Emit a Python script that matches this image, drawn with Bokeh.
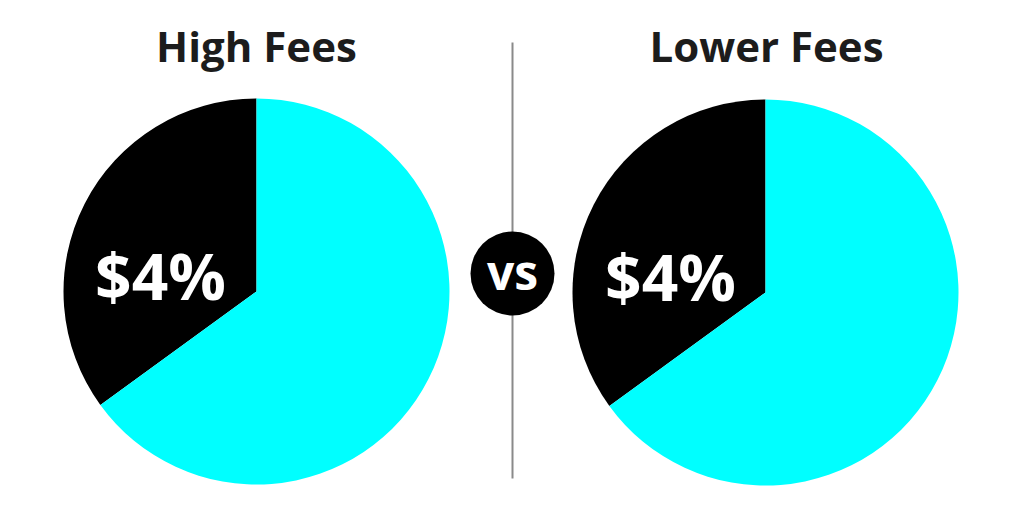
import math
from bokeh.plotting import figure
from bokeh.models import Range1d, ColumnDataSource
from bokeh.core.properties import value
from bokeh.embed import file_html
from bokeh.resources import INLINE

# ---- data ----
panels = ["High Fees", "Lower Fees"]
slice_labels = ["$4%", "$4%"]
fee_share = [35.0, 35.0]      # black slice (%)
rest_share = [65.0, 65.0]     # cyan slice (%)
slice_colors = ["#000000", "#00FFFF"]

W, H = 1008, 505
p = figure(width=W, height=H, output_backend="svg", toolbar_location=None,
           x_range=Range1d(0, W), y_range=Range1d(0, H), min_border=0,
           background_fill_color="white", border_fill_color="white")
p.axis.visible = False
p.grid.visible = False
p.outline_line_color = None

centers = [(256, 214), (765, 213)]
R = 193

xs, ys, starts, ends, cols = [], [], [], [], []
for (cx, cy), a, b in zip(centers, fee_share, rest_share):
    tot = a + b
    ang = math.pi / 2
    for v, c in zip([a, b], slice_colors):
        span = 2 * math.pi * v / tot
        xs.append(cx); ys.append(cy)
        starts.append(ang); ends.append(ang + span); cols.append(c)
        ang += span
src = ColumnDataSource(dict(x=xs, y=ys, s=starts, e=ends, c=cols))
p.wedge(x="x", y="y", radius=R, start_angle="s", end_angle="e",
        fill_color="c", line_color=None, source=src)

# divider line and vs badge
p.segment(x0=[512], y0=[463], x1=[512], y1=[27], line_color="#8a8a8a", line_width=2)
p.circle(x=[512], y=[232], radius=42, fill_color="#000000", line_color=None)
p.text(x=[512], y=[234], text=["vs"], text_color="white", text_font=value("Open Sans"),
       text_font_style="bold", text_font_size="48px", text_align="center",
       text_baseline="middle")

# titles
p.text(x=[256, 766], y=[460, 460], text=panels, text_color="#1c1c1c",
       text_font=value("Open Sans"), text_font_style="bold", text_font_size="42px",
       text_align="center", text_baseline="middle")

# slice labels
p.text(x=[160, 670], y=[230, 229], text=slice_labels, text_color="white",
       text_font=value("Open Sans"), text_font_style="bold", text_font_size="64px",
       text_align="center", text_baseline="middle")

open("out.html", "w").write(file_html(p, INLINE))
